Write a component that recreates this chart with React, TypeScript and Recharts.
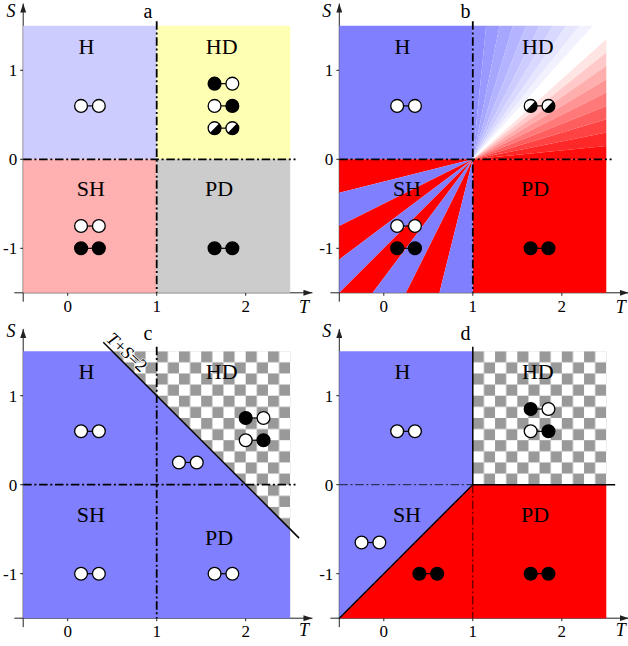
import React from 'react';
import { ScatterChart, Scatter, XAxis, YAxis, ReferenceLine } from 'recharts';

type Pt = { t: number; s: number };
type Kind = 'w' | 'k' | 'h';
type Dimer = [number, number, Kind, Kind];
type Tag = [string, number, number];

const tTicks = [0, 1, 2];
const sTicks = [-1, 0, 1];

// T and S where the wedges of panel b meet the plot frame
const shLeftEdge = [0, -0.375, -0.75, -1.125, -1.5];
const shBottomEdge = [-0.5, -0.125, 0.25, 0.625, 1];
const hdTopEdge = [1, 1.15, 1.3, 1.45, 1.6, 1.75, 1.9, 2.05, 2.2, 2.35, 2.5];
const hdRightEdge = [1.5, 1.35, 1.2, 1.05, 0.9, 0.75, 0.6, 0.45, 0.3, 0.15, 0];

const corner: Pt = { t: 1, s: 0 };

const quadH: Pt[] = [{ t: -0.5, s: 1.5 }, { t: 1, s: 1.5 }, { t: 1, s: 0 }, { t: -0.5, s: 0 }];
const quadHD: Pt[] = [{ t: 1, s: 1.5 }, { t: 2.5, s: 1.5 }, { t: 2.5, s: 0 }, { t: 1, s: 0 }];
const quadSH: Pt[] = [{ t: -0.5, s: 0 }, { t: 1, s: 0 }, { t: 1, s: -1.5 }, { t: -0.5, s: -1.5 }];
const quadPD: Pt[] = [{ t: 1, s: 0 }, { t: 2.5, s: 0 }, { t: 2.5, s: -1.5 }, { t: 1, s: -1.5 }];

const cBlue: Pt[] = [{ t: -0.5, s: 1.5 }, { t: 0.5, s: 1.5 }, { t: 2.5, s: -0.5 }, { t: 2.5, s: -1.5 }, { t: -0.5, s: -1.5 }];
const cCheck: Pt[] = [{ t: 0.5, s: 1.5 }, { t: 2.5, s: 1.5 }, { t: 2.5, s: -0.5 }];
const dBlue: Pt[] = [{ t: -0.5, s: 1.5 }, { t: 1, s: 1.5 }, { t: 1, s: 0 }, { t: -0.5, s: -1.5 }];
const dRed: Pt[] = [{ t: -0.5, s: -1.5 }, { t: 1, s: 0 }, { t: 2.5, s: 0 }, { t: 2.5, s: -1.5 }];

const vDash: Pt[] = [{ t: 1, s: 1.55 }, { t: 1, s: -1.5 }];
const hDash: Pt[] = [{ t: -0.5, s: 0 }, { t: 2.56, s: 0 }];
const tsLine: Pt[] = [{ t: 0.4, s: 1.6 }, { t: 2.6, s: -0.6 }];
const tsLabelAt: Pt[] = [{ t: 0.62, s: 1.44 }];
const dDiag: Pt[] = [{ t: -0.5, s: -1.5 }, { t: 1, s: 0 }];
const dThinH: Pt[] = [{ t: -0.5, s: 0 }, { t: 1, s: 0 }];
const dThinV: Pt[] = [{ t: 1, s: 0 }, { t: 1, s: -1.5 }];
const dSolidV: Pt[] = [{ t: 1, s: 1.55 }, { t: 1, s: 0 }];
const dSolidH: Pt[] = [{ t: 1, s: 0 }, { t: 2.6, s: 0 }];

const tagsAB: Tag[] = [['H', 0.21, 1.27], ['HD', 1.73, 1.27], ['SH', 0.26, -0.33], ['PD', 1.7, -0.33]];
const tagsC: Tag[] = [['H', 0.21, 1.27], ['HD', 1.73, 1.27], ['SH', 0.26, -0.33], ['PD', 1.7, -0.59]];

// centre T, S, left site, right site
const dimersA: Dimer[] = [
  [0.25, 0.6, 'w', 'w'],
  [1.75, 0.85, 'k', 'w'],
  [1.75, 0.6, 'w', 'k'],
  [1.75, 0.35, 'h', 'h'],
  [0.25, -0.75, 'w', 'w'],
  [0.25, -1, 'k', 'k'],
  [1.75, -1, 'k', 'k'],
];
const dimersB: Dimer[] = [
  [0.25, 0.6, 'w', 'w'],
  [1.75, 0.6, 'h', 'h'],
  [0.25, -0.75, 'w', 'w'],
  [0.25, -1, 'k', 'k'],
  [1.75, -1, 'k', 'k'],
];
const dimersC: Dimer[] = [
  [0.25, 0.6, 'w', 'w'],
  [1.35, 0.25, 'w', 'w'],
  [2.1, 0.75, 'k', 'w'],
  [2.1, 0.5, 'w', 'k'],
  [0.25, -1, 'w', 'w'],
  [1.75, -1, 'w', 'w'],
];
const dimersD: Dimer[] = [
  [0.25, 0.6, 'w', 'w'],
  [1.75, 0.85, 'k', 'w'],
  [1.75, 0.6, 'w', 'k'],
  [-0.15, -0.65, 'w', 'w'],
  [0.5, -1, 'k', 'k'],
  [1.75, -1, 'k', 'k'],
];

const BLUE = '#8080ff';
const RED = '#ff0000';
const GREY = '#999999';
const SERIF = '"Liberation Serif", "Times New Roman", serif';
const UNIT = 89;
const T_MAX = 2.75;
const S_MAX = 1.75;
const DASH = '8.5 2.7 2 2.7';

const noMark = () => <g />;

const fillPoly = (key: string, pts: Pt[], fill: string) => (
  <Scatter
    key={key}
    data={pts}
    isAnimationActive={false}
    shape={noMark}
    line={(p: any) => (
      <polygon points={p.points.map((q: any) => `${q.x},${q.y}`).join(' ')} fill={fill} stroke="none" />
    )}
  />
);

const strokeLine = (key: string, pts: Pt[], width: number, dash?: string) => (
  <Scatter
    key={key}
    data={pts}
    isAnimationActive={false}
    shape={noMark}
    line={(p: any) => (
      <polyline
        points={p.points.map((q: any) => `${q.x},${q.y}`).join(' ')}
        fill="none"
        stroke="#000"
        strokeWidth={width}
        strokeDasharray={dash}
      />
    )}
  />
);

const Site = (p: any) => {
  const { cx, cy, payload } = p;
  const r = 6.4;
  if (payload.kind === 'h') {
    const d = r * Math.SQRT1_2;
    return (
      <g>
        <circle cx={cx} cy={cy} r={r} fill="#fff" stroke="#000" strokeWidth={1.3} />
        <path d={`M${cx - d},${cy + d} A${r},${r} 0 0 0 ${cx + d},${cy - d} Z`} fill="#000" />
      </g>
    );
  }
  return (
    <circle cx={cx} cy={cy} r={r} fill={payload.kind === 'k' ? '#000' : '#fff'} stroke="#000" strokeWidth={1.3} />
  );
};

const dimerMarks = (list: Dimer[]) =>
  list.map(([t, s, a, b], i) => (
    <Scatter
      key={`dimer${i}`}
      data={[
        { t: t - 0.1, s, kind: a },
        { t: t + 0.1, s, kind: b },
      ]}
      isAnimationActive={false}
      shape={Site}
      line={(p: any) => (
        <polyline points={p.points.map((q: any) => `${q.x},${q.y}`).join(' ')} stroke="#000" strokeWidth={1.2} fill="none" />
      )}
    />
  ));

const tagMarks = (list: Tag[]) => (
  <Scatter
    key="tags"
    data={list.map(([text, t, s]) => ({ text, t, s }))}
    isAnimationActive={false}
    shape={(p: any) => (
      <text x={p.cx} y={p.cy + 7.5} textAnchor="middle" fontFamily={SERIF} fontSize={22} fill="#000">
        {p.payload.text}
      </text>
    )}
  />
);

const tsLabel = (
  <Scatter
    key="tsLabel"
    data={tsLabelAt}
    isAnimationActive={false}
    shape={(p: any) => (
      <text
        x={p.cx}
        y={p.cy}
        transform={`rotate(43 ${p.cx} ${p.cy})`}
        textAnchor="middle"
        fontFamily={SERIF}
        fontSize={18}
        fill="#000"
        stroke="#fff"
        strokeWidth={1.5}
        paintOrder="stroke"
      >
        <tspan fontStyle="italic">T</tspan>+<tspan fontStyle="italic">S</tspan>=2
      </text>
    )}
  />
);

const blueShade = (i: number) => {
  const v = Math.round(128 + (127 * (i + 1)) / 10);
  return `rgb(${v},${v},255)`;
};
const redShade = (i: number) => {
  const v = Math.round(255 * (1 - i / 9.5));
  return `rgb(255,${v},${v})`;
};

const wedges = () => {
  const out: React.ReactNode[] = [];
  const rim: Pt[] = [
    ...shLeftEdge.map((s) => ({ t: -0.5, s })),
    ...shBottomEdge.slice(1).map((t) => ({ t, s: -1.5 })),
  ];
  rim.slice(1).forEach((p, i) => {
    out.push(fillPoly(`sh${i}`, [corner, rim[i], p], i % 2 === 0 ? RED : BLUE));
  });
  hdTopEdge.slice(1).forEach((t, i) => {
    out.push(fillPoly(`top${i}`, [corner, { t: hdTopEdge[i], s: 1.5 }, { t, s: 1.5 }], blueShade(i)));
  });
  hdRightEdge.slice(1).forEach((s, i) => {
    out.push(fillPoly(`right${i}`, [corner, { t: 2.5, s: hdRightEdge[i] }, { t: 2.5, s }], redShade(i)));
  });
  return out;
};

interface PanelProps {
  id: string;
  left: number;
  top: number;
  height: number;
  axisLeft: number;
  plotTop: number;
  children: React.ReactNode;
  overlay?: React.ReactNode;
}

const Panel = ({ id, left, top, height, axisLeft, plotTop, children, overlay }: PanelProps) => {
  const plotSize = (T_MAX + 0.5) * UNIT;
  const chartW = 316;
  const originX = axisLeft + 1.5 * UNIT;
  const originY = plotTop + (S_MAX - 1.5) * UNIT;
  return (
    <div style={{ position: 'absolute', left, top, width: chartW, height }}>
      <ScatterChart
        width={chartW}
        height={height}
        margin={{ top: plotTop, left: 0, right: chartW - axisLeft - plotSize, bottom: 0 }}
      >
        <defs>
          <marker
            id={`arrow-${id}`}
            markerUnits="userSpaceOnUse"
            markerWidth={10}
            markerHeight={6}
            refX={9}
            refY={3}
            orient="auto-start-reverse"
          >
            <path d="M0,0 L9,3 L0,6 Z" fill="#222" />
          </marker>
          <pattern
            id={`check-${id}`}
            patternUnits="userSpaceOnUse"
            x={originX}
            y={originY}
            width={UNIT / 4}
            height={UNIT / 4}
          >
            <rect x={0} y={0} width={UNIT / 8} height={UNIT / 8} fill={GREY} />
            <rect x={UNIT / 8} y={UNIT / 8} width={UNIT / 8} height={UNIT / 8} fill={GREY} />
          </pattern>
        </defs>
        <XAxis
          type="number"
          dataKey="t"
          domain={[-0.5, T_MAX]}
          ticks={tTicks}
          height={height - plotTop - plotSize}
          tickSize={3}
          tickMargin={4}
          tick={{ fontFamily: SERIF, fontSize: 17, fill: '#000' }}
          tickLine={{ stroke: '#222' }}
          axisLine={{ stroke: '#222', markerEnd: `url(#arrow-${id})` }}
        />
        <YAxis
          type="number"
          dataKey="s"
          domain={[-1.5, S_MAX]}
          ticks={sTicks}
          width={axisLeft}
          tickSize={3}
          tickMargin={3}
          tick={{ fontFamily: SERIF, fontSize: 17, fill: '#000' }}
          tickLine={{ stroke: '#222' }}
          axisLine={{ stroke: '#222', markerStart: `url(#arrow-${id})` }}
        />
        <ReferenceLine segment={[{ x: -0.6, y: -1.5 }, { x: -0.5, y: -1.5 }]} stroke="#222" ifOverflow="visible" />
        <ReferenceLine segment={[{ x: -0.5, y: -1.6 }, { x: -0.5, y: -1.5 }]} stroke="#222" ifOverflow="visible" />
        {children}
        {overlay}
      </ScatterChart>
    </div>
  );
};

const axisText = (title: string, titleX: number, titleY: number, sX: number, sY: number, tX: number, tY: number) => (
  <g fontFamily={SERIF} fill="#000">
    <text x={titleX} y={titleY} fontSize={20} textAnchor="middle">{title}</text>
    <text x={sX} y={sY} fontSize={18} fontStyle="italic" textAnchor="middle">S</text>
    <text x={tX} y={tY} fontSize={18} fontStyle="italic" textAnchor="middle">T</text>
  </g>
);

export default function App() {
  return (
    <div style={{ position: 'absolute', left: 0, top: 0, width: 628, height: 646, overflow: 'hidden', background: '#fff' }}>
      <Panel id="a" left={0} top={0} height={323} axisLeft={23.2} plotTop={3.55} overlay={axisText('a', 148, 18, 11, 17, 304, 313)}>
        {fillPoly('h', quadH, '#ccccff')}
        {fillPoly('hd', quadHD, '#ffffb3')}
        {fillPoly('sh', quadSH, '#ffb0b0')}
        {fillPoly('pd', quadPD, '#cccccc')}
        {strokeLine('v', vDash, 1.8, DASH)}
        {strokeLine('x', hDash, 1.8, DASH)}
        {tagMarks(tagsAB)}
        {dimerMarks(dimersA)}
      </Panel>
      <Panel id="b" left={314} top={0} height={323} axisLeft={25.3} plotTop={3.55} overlay={axisText('b', 151.5, 18, 12.7, 17, 306.7, 313)}>
        {fillPoly('h', quadH, BLUE)}
        {fillPoly('pd', quadPD, RED)}
        {wedges()}
        {strokeLine('v', vDash, 1.8, DASH)}
        {strokeLine('x', hDash, 1.8, DASH)}
        {tagMarks(tagsAB)}
        {dimerMarks(dimersB)}
      </Panel>
      <Panel id="c" left={0} top={318} height={328} axisLeft={23.2} plotTop={10.95} overlay={axisText('c', 148, 22, 11, 19, 304, 318)}>
        {fillPoly('blue', cBlue, BLUE)}
        {fillPoly('check', cCheck, 'url(#check-c)')}
        {strokeLine('v', vDash, 1.8, DASH)}
        {strokeLine('x', hDash, 1.8, DASH)}
        {strokeLine('ts', tsLine, 1.5)}
        {tsLabel}
        {tagMarks(tagsC)}
        {dimerMarks(dimersC)}
      </Panel>
      <Panel id="d" left={314} top={318} height={328} axisLeft={25.3} plotTop={10.95} overlay={axisText('d', 151.5, 22, 12.7, 19, 306.7, 318)}>
        {fillPoly('blue', dBlue, BLUE)}
        {fillPoly('red', dRed, RED)}
        {fillPoly('check', quadHD, 'url(#check-d)')}
        {strokeLine('thinH', dThinH, 0.8, DASH)}
        {strokeLine('thinV', dThinV, 0.8, DASH)}
        {strokeLine('solidV', dSolidV, 1.5)}
        {strokeLine('solidH', dSolidH, 1.5)}
        {strokeLine('diag', dDiag, 1.5)}
        {tagMarks(tagsAB)}
        {dimerMarks(dimersD)}
      </Panel>
    </div>
  );
}
